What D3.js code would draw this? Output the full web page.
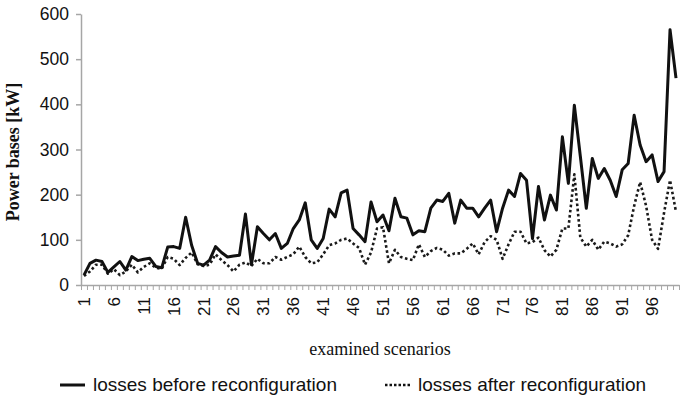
<!DOCTYPE html>
<html>
<head>
<meta charset="utf-8">
<script src="https://cdn.jsdelivr.net/npm/d3@7"></script>
<style>
  html, body { margin: 0; padding: 0; background: #fff; }
  svg { display: block; }
</style>
</head>
<body>
<svg id="chart" width="685" height="402"></svg>
<script>
// ---- data ----
const scenarios = d3.range(1, 101);
const lossesBefore = [
  22, 48, 55, 52, 28, 40, 52, 33, 63, 54,
  57, 59, 41, 38, 84, 85, 81, 150, 88, 48,
  44, 55, 85, 72, 62, 64, 66, 157, 45, 129,
  114, 100, 114, 81, 92, 125, 144, 182, 100, 81,
  103, 168, 151, 204, 210, 125, 111, 96, 184, 140,
  155, 120, 192, 151, 148, 111, 120, 118, 170, 188,
  185, 203, 137, 188, 170, 170, 151, 170, 188, 118,
  170, 210, 196, 247, 232, 103, 218, 144, 199, 166,
  328, 225, 398, 285, 170, 280, 236, 258, 232, 196,
  255, 269, 376, 310, 273, 288, 229, 251, 565, 458
];
const lossesAfter = [
  20, 30, 45, 45, 25, 35, 22, 30, 45, 28,
  40, 48, 38, 36, 62, 58, 44, 60, 72, 46,
  42, 45, 68, 55, 44, 30, 45, 50, 42, 58,
  48, 48, 62, 56, 62, 68, 85, 62, 48, 50,
  68, 88, 92, 100, 103, 92, 82, 45, 72, 125,
  128, 48, 78, 62, 58, 55, 90, 62, 75, 82,
  78, 65, 70, 70, 80, 92, 68, 95, 108, 100,
  58, 90, 118, 118, 92, 95, 105, 77, 63, 78,
  125, 125, 245, 105, 85, 100, 78, 96, 92, 85,
  90, 110, 175, 228, 175, 100, 80, 160, 232, 162
];
const yTicks = [0, 100, 200, 300, 400, 500, 600];
const xTickLabels = [1, 6, 11, 16, 21, 26, 31, 36, 41, 46, 51, 56, 61, 66, 71, 76, 81, 86, 91, 96];
const seriesNames = ["losses before reconfiguration", "losses after reconfiguration"];
const yTitle = "Power bases [kW]";
const xTitle = "examined scenarios";

// ---- layout ----
const svg = d3.select("#chart");
const plotLeft = 81, plotRight = 679, plotTop = 14, plotBottom = 285;
const axisColor = "#a6a6a6";

const x = d3.scaleBand().domain(scenarios).range([plotLeft, plotRight]).paddingInner(0).paddingOuter(0);
const xc = d => x(d) + x.bandwidth() / 2;
const xb = d3.scaleLinear().domain([0, scenarios.length]).range([plotLeft, plotRight]);
const y = d3.scaleLinear().domain([0, 600]).range([plotBottom, plotTop]);

svg.append("rect").attr("width", 685).attr("height", 402).attr("fill", "#fff");

// Y axis
const yAxis = svg.append("g").attr("transform", `translate(${plotLeft},0)`)
  .call(d3.axisLeft(y).tickValues(yTicks).tickSize(5).tickPadding(7).tickSizeOuter(0));
yAxis.select(".domain").attr("stroke", axisColor).attr("stroke-width", 1.5);
yAxis.selectAll(".tick line").attr("stroke", axisColor).attr("stroke-width", 1.5);
yAxis.selectAll(".tick text")
  .attr("font-family", "'Liberation Sans', Arial, sans-serif")
  .attr("font-size", 17.5).attr("fill", "#111");

// X axis minor ticks (category boundaries)
const xMinor = svg.append("g").attr("transform", `translate(0,${plotBottom})`)
  .call(d3.axisBottom(xb).tickValues(d3.range(0, scenarios.length + 1)).tickSize(5).tickFormat("").tickSizeOuter(0));
xMinor.select(".domain").attr("stroke", axisColor).attr("stroke-width", 1.5);
xMinor.selectAll(".tick line").attr("stroke", axisColor).attr("stroke-width", 1);

// X axis labels
const xAxis = svg.append("g").attr("transform", `translate(0,${plotBottom})`)
  .call(d3.axisBottom(x).tickValues(xTickLabels).tickSize(0));
xAxis.select(".domain").remove();
xAxis.selectAll(".tick text")
  .attr("font-family", "'Liberation Sans', Arial, sans-serif")
  .attr("font-size", 17).attr("fill", "#111")
  .attr("transform", "rotate(-90)")
  .attr("text-anchor", "end")
  .attr("x", -12).attr("y", 0).attr("dy", "0.35em");

// lines
const line = d3.line().x((d, i) => xc(scenarios[i])).y(d => y(d));
svg.append("path").datum(lossesAfter)
  .attr("d", line).attr("fill", "none").attr("stroke", "#1a1a1a")
  .attr("stroke-width", 2.6).attr("stroke-dasharray", "2.6,2.6").attr("stroke-linejoin", "round");
svg.append("path").datum(lossesBefore)
  .attr("d", line).attr("fill", "none").attr("stroke", "#111")
  .attr("stroke-width", 3).attr("stroke-linejoin", "round");

// titles
svg.append("text").attr("transform", "translate(19,152) rotate(-90)")
  .attr("text-anchor", "middle")
  .attr("font-family", "'Liberation Serif', 'Times New Roman', serif")
  .attr("font-weight", "bold").attr("font-size", 18).attr("fill", "#111")
  .text(yTitle);
svg.append("text").attr("x", 380).attr("y", 355)
  .attr("text-anchor", "middle")
  .attr("font-family", "'Liberation Serif', 'Times New Roman', serif")
  .attr("font-size", 18).attr("fill", "#111")
  .text(xTitle);

// legend
const legend = svg.append("g");
const legendItems = [
  { name: seriesNames[0], x: 60, dash: null, w: 3 },
  { name: seriesNames[1], x: 385, dash: "2.5,2", w: 2.5 }
];
legendItems.forEach(it => {
  legend.append("line").attr("x1", it.x).attr("x2", it.x + 25).attr("y1", 385).attr("y2", 385)
    .attr("stroke", "#111").attr("stroke-width", it.w)
    .attr("stroke-dasharray", it.dash);
  legend.append("text").attr("x", it.x + 33).attr("y", 391)
    .attr("font-family", "'Liberation Sans', Arial, sans-serif")
    .attr("font-size", 19).attr("fill", "#111")
    .text(it.name);
});
</script>
</body>
</html>
